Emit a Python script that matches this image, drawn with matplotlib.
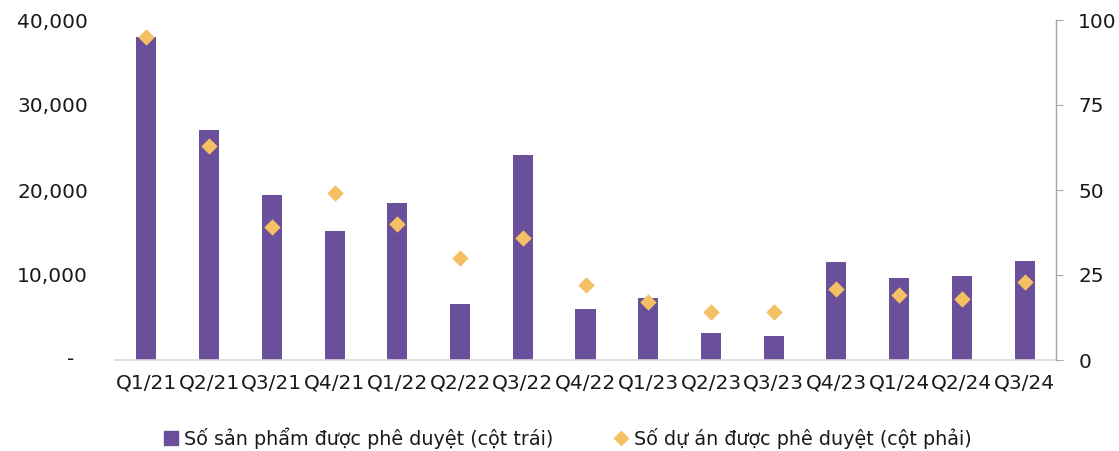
import matplotlib
matplotlib.use("Agg")
import matplotlib.pyplot as plt
from matplotlib.lines import Line2D
from matplotlib.ticker import FuncFormatter

categories = ["Q1/21", "Q2/21", "Q3/21", "Q4/21", "Q1/22", "Q2/22", "Q3/22", "Q4/22",
              "Q1/23", "Q2/23", "Q3/23", "Q4/23", "Q1/24", "Q2/24", "Q3/24"]
products = [38000, 27000, 19400, 15200, 18500, 6600, 24100, 6000,
            7300, 3200, 2800, 11500, 9650, 9900, 11650]
projects = [95, 63, 39, 49, 40, 30, 36, 22, 17, 14, 14, 21, 19, 18, 23]

bar_label = "Số sản phẩm được phê duyệt (cột trái)"
pt_label = "Số dự án được phê duyệt (cột phải)"

purple = "#6A4F9A"
orange = "#F5BF63"
grey = "#A6A6A6"
txt = "#1a1a1a"
fs = 14.5

plt.rcParams['font.family'] = ['DejaVu Sans']

fig = plt.figure(figsize=(11.19, 4.51), dpi=100)
ax = fig.add_axes([115/1119, 1 - 360/451, (1056-115)/1119, 340/451])
ax2 = ax.twinx()

x = list(range(len(categories)))
ax.bar(x, products, width=0.32, color=purple, zorder=2)
ax2.scatter(x, projects, marker="D", s=70, color=orange, zorder=3, linewidths=0)

ax.set_xlim(-0.5, len(categories) - 0.5)
ax.set_ylim(0, 40000)
ax2.set_ylim(0, 100)
ax.set_yticks([0, 10000, 20000, 30000, 40000])
ax.yaxis.set_major_formatter(FuncFormatter(lambda v, p: "" if v == 0 else f"{int(v):,}"))
ax2.set_yticks([0, 25, 50, 75, 100])

ax.set_xticks(x)
ax.set_xticklabels(categories)

for a in (ax, ax2):
    for s in ("top", "left"):
        a.spines[s].set_visible(False)
ax.spines["right"].set_visible(False)
ax2.spines["bottom"].set_visible(False)
ax.spines["bottom"].set_color("#D9D9D9")
ax.spines["bottom"].set_linewidth(1.2)
ax2.spines["right"].set_color(grey)
ax2.spines["right"].set_linewidth(1.0)

ax.tick_params(axis="y", length=0, labelsize=fs, labelcolor=txt, pad=19.4)
ax.tick_params(axis="x", length=0, labelsize=fs, labelcolor=txt, pad=10)
ax2.tick_params(axis="y", length=5, color=grey, labelsize=fs, labelcolor=txt, pad=11)
for lbl in ax.get_yticklabels():
    lbl.set_horizontalalignment("right")

# zero label shown as a dash, like the accounting number format
ax.annotate("-", xy=(0, 0), xycoords=("axes fraction", "data"), xytext=(-44, 0),
            textcoords="offset pixels", ha="center", va="center", fontsize=fs, color=txt)

handles = [
    Line2D([], [], marker="s", linestyle="none", markersize=10, color=purple, label=bar_label),
    Line2D([], [], marker="D", linestyle="none", markersize=7, color=orange, label=pt_label),
]
fig.legend(handles=handles, loc="center left", bbox_to_anchor=(163/1119, 1 - 438/451), ncol=2,
           frameon=False, fontsize=13.8, handletextpad=0.3, columnspacing=3.1,
           handlelength=0.8, borderpad=0, borderaxespad=0, labelcolor=txt)

fig.savefig("out.png", dpi=100)
